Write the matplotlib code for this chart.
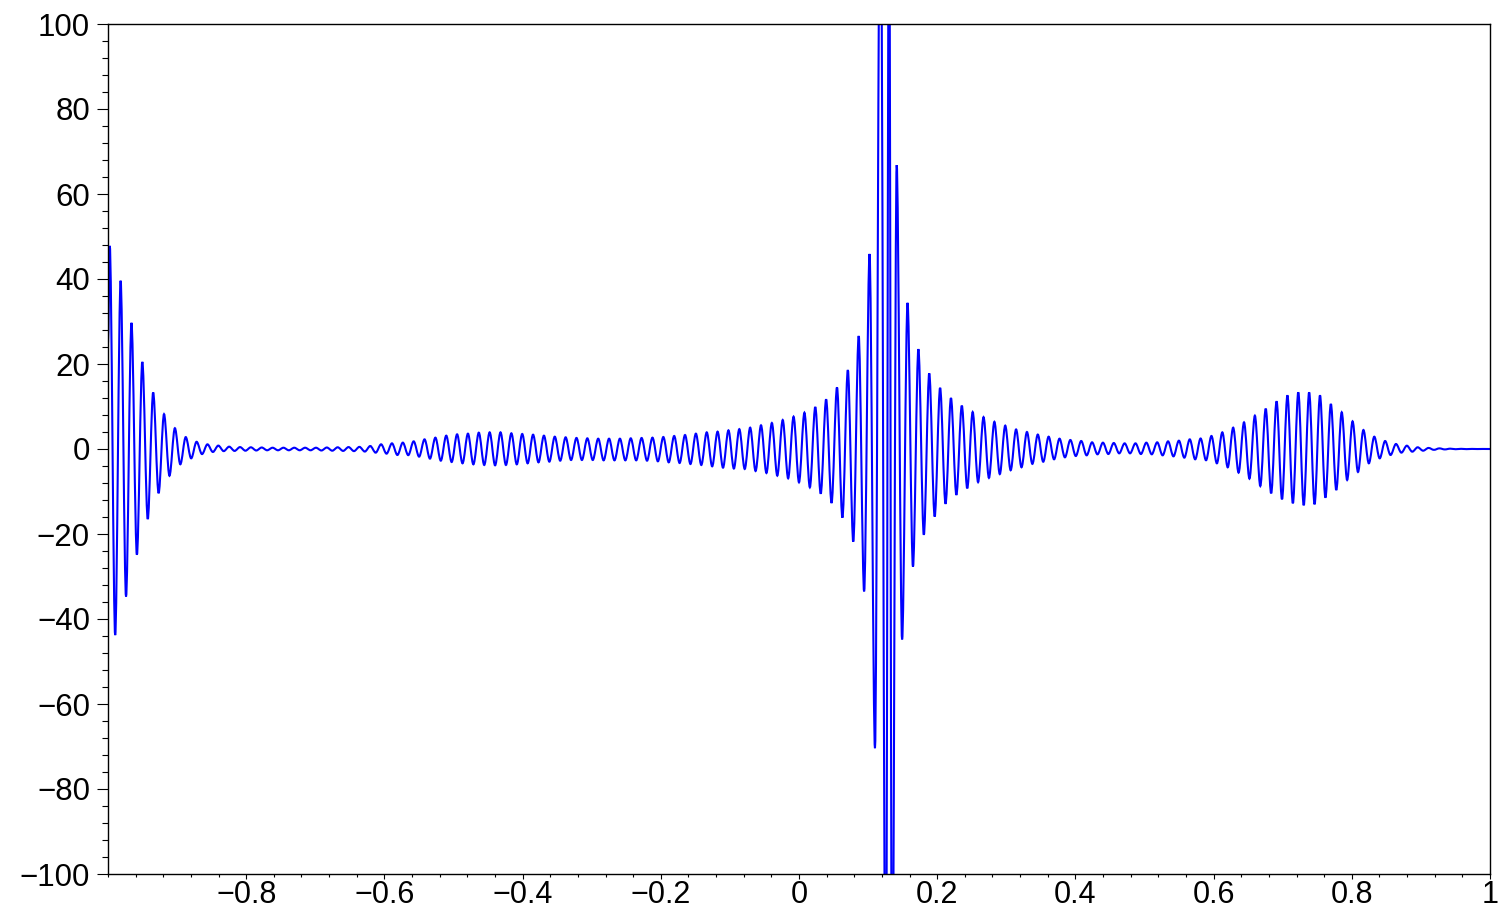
import numpy as np
import matplotlib

matplotlib.use("Agg")
import matplotlib.pyplot as plt
from matplotlib.path import Path
from matplotlib.patches import PathPatch
from matplotlib.ticker import FixedLocator, MultipleLocator, FuncFormatter

plt.rcParams["font.family"] = ["Liberation Sans", "DejaVu Sans"]

# extrema sit on a regular grid of half carrier periods
STEP = np.pi / 400

# curve value where it enters at x = -1 and leaves at x = 1
start_point = (-1.0, 25.0)
end_point = (1.0, 0.0)

# extrema with index -127 .. -105 : decaying burst at the left edge
left_burst = [47.8, -43.8, 39.6, -34.7, 29.7, -24.9, 20.5, -16.5, 13.3, -10.4,
              8.2, -6.3, 4.9, -3.6, 2.8, -2.2, 1.7, -1.2, 1.1, -0.7, 0.8, -0.5, 0.55]
# index -104 .. -81 : nearly flat stretch
quiet_left = [-0.45, 0.45, -0.4, 0.4, -0.35, 0.35, -0.3, 0.3, -0.3, 0.3, -0.3, 0.3,
              -0.3, 0.3, -0.3, 0.3, -0.35, 0.35, -0.4, 0.4, -0.45, 0.45, -0.5, 0.5]
# index -80 .. -41 : packet around x = -0.45
packet_left = [-0.6, 0.7, -0.86, 1.1, -1.1, 1.33, -1.41, 1.5, -1.45, 1.8,
               -1.8, 2.27, -2.27, 2.67, -2.75, 3.14, -3.06, 3.45, -3.37, 3.61,
               -3.61, 3.84, -3.76, 3.92, -3.84, 3.92, -3.76, 3.69, -3.61, 3.53,
               -3.37, 3.37, -3.14, 3.14, -2.98, 2.9, -2.75, 2.75, -2.59, 2.6]
# index -40 .. 14 : plateau then growth into the central burst
rise_center = [-2.59, 2.51, -2.59, 2.43, -2.67, 2.43, -2.67, 2.43, -2.67, 2.51,
               -2.67, 2.59, -2.75, 2.67, -2.9, 2.82, -3.14, 3.06, -3.29, 3.29,
               -3.53, 3.61, -3.76, 3.92, -4.08, 4.08, -4.39, 4.39, -4.6, 4.67,
               -4.7, 5.02, -5.18, 5.57, -5.65, 6.12, -6.27, 6.82, -6.9, 7.61,
               -7.84, 8.55, -9.02, 9.88, -10.51, 11.69, -12.71, 14.51, -16.16, 18.59,
               -21.8, 26.6, -33.5, 45.9, -70.4]
# central burst: off-scale swings, positions in x units
burst_x = [0.1178, 0.1257, 0.1303, 0.1347]
burst_y = [150.0, -150.0, 150.0, -150.0]
# index 18 .. 75 : decay after the burst and the quiet dip near x = 0.47
decay_right = [66.8, -44.8, 34.4, -27.7, 23.5, -20.2, 17.8, -15.9, 14.4, -12.9,
               12.0, -10.8, 10.2, -9.25, 8.7, -7.8, 7.5, -6.8, 6.4, -5.9,
               5.5, -5.0, 4.6, -4.3, 4.0, -3.5, 3.4, -3.0, 2.9, -2.43,
               2.43, -1.96, 2.12, -1.65, 1.88, -1.49, 1.57, -1.25, 1.49, -1.18,
               1.41, -1.02, 1.33, -1.02, 1.33, -1.18, 1.49, -1.25, 1.57, -1.49,
               1.8, -1.73, 1.96, -2.04, 2.27, -2.43, 2.47, -2.65]
# index 76 .. 127 : packet around x = 0.73 and the flat tail
packet_right = [3.06, -3.37, 3.92, -4.31, 5.02, -5.57, 6.27, -6.98, 7.84, -8.71,
                9.49, -10.43, 11.22, -11.84, 12.63, -12.78, 13.33, -13.25, 13.33, -13.02,
                12.63, -11.45, 10.59, -9.65, 8.63, -7.29, 6.51, -5.41, 4.47, -3.37,
                2.9, -2.2, 1.88, -1.41, 1.18, -0.86, 0.78, -0.63, 0.4, -0.4,
                0.25, -0.2, 0.15, -0.1, 0.08, -0.05, 0.04, -0.03, 0.02, -0.01,
                0.01, 0.0]

x_ticks = [-0.8, -0.6, -0.4, -0.2, 0, 0.2, 0.4, 0.6, 0.8, 1]
y_ticks = [-100, -80, -60, -40, -20, 0, 20, 40, 60, 80, 100]


def main() -> None:
    left_vals = left_burst + quiet_left + packet_left + rise_center
    left_idx = np.arange(-127, -127 + len(left_vals))
    right_vals = decay_right + packet_right
    right_idx = np.arange(18, 18 + len(right_vals))

    xs = np.concatenate([[start_point[0]], left_idx * STEP, burst_x,
                         right_idx * STEP, [end_point[0]]])
    ys = np.concatenate([[start_point[1]], left_vals, burst_y,
                         right_vals, [end_point[1]]])

    # smooth swing between neighbouring extrema: cubic segments, flat at each end
    verts = [(xs[0], ys[0])]
    codes = [Path.MOVETO]
    for x0, y0, x1, y1 in zip(xs[:-1], ys[:-1], xs[1:], ys[1:]):
        dx = x1 - x0
        verts += [(x0 + dx / 3, y0), (x1 - dx / 3, y1), (x1, y1)]
        codes += [Path.CURVE4] * 3

    fig = plt.figure(figsize=(14.98, 9.10), dpi=100)
    ax = fig.add_axes([108 / 1498, 36 / 910, 1382 / 1498, 850 / 910])
    ax.add_patch(PathPatch(Path(verts, codes), fill=False,
                           edgecolor="#0000ff", linewidth=1.5))
    ax.set_xlim(-1, 1)
    ax.set_ylim(-100, 100)

    ax.xaxis.set_major_locator(FixedLocator(x_ticks))
    ax.xaxis.set_minor_locator(MultipleLocator(0.04))
    ax.yaxis.set_major_locator(FixedLocator(y_ticks))
    ax.yaxis.set_minor_locator(MultipleLocator(4))
    fmt = FuncFormatter(lambda v, _: f"{v:g}".replace("-", "\u2212"))
    ax.xaxis.set_major_formatter(fmt)
    ax.yaxis.set_major_formatter(fmt)

    for side in ("left", "right", "top", "bottom"):
        ax.spines[side].set_linewidth(1.0)
        ax.spines[side].set_color("black")
    ax.tick_params(axis="both", which="both", direction="out",
                   top=False, right=False, width=0.8, colors="black")
    ax.tick_params(axis="y", which="major", length=8, pad=5, labelsize=22.5)
    ax.tick_params(axis="y", which="minor", length=4.3)
    ax.tick_params(axis="x", which="major", length=3.6, pad=1, labelsize=22)
    ax.tick_params(axis="x", which="minor", length=2)

    fig.savefig("out.png", dpi=100)
    plt.close(fig)


if __name__ == "__main__":
    main()
